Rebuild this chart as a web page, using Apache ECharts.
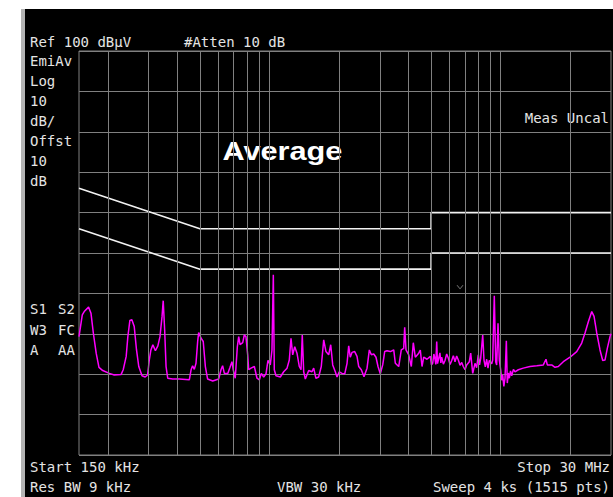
<!DOCTYPE html>
<html>
<head>
<meta charset="utf-8">
<script src="https://cdn.jsdelivr.net/npm/echarts@6/dist/echarts.min.js"></script>
<style>
  html, body { margin: 0; padding: 0; background: #ffffff; }
  #wrap { position: relative; width: 613px; height: 497px; overflow: hidden; background: #ffffff; }
  #bezel { position: absolute; left: 21px; top: 9px; width: 4px; height: 488px; background: #b4b4b4; }
  #panel { position: absolute; left: 25px; top: 9px; width: 588px; height: 488px; background: #000000; }
  #chart { position: absolute; left: 0; top: 0; width: 613px; height: 497px; }
</style>
</head>
<body>
<div id="wrap">
  <div id="bezel"></div>
  <div id="panel"></div>
  <div id="chart"></div>
</div>
<script>
// ---- data (frequency in MHz, level in dBµV) ----
const traceFreq = [
  0.150,0.155,0.158,0.165,0.169,0.173,0.178,0.183,0.190,0.203,0.213,0.228,0.233,0.240,0.244,0.249,0.254,0.260,0.266,0.272,
  0.281,0.290,0.297,0.302,0.307,0.313,0.321,0.329,0.336,0.343,0.347,0.352,0.357,0.363,0.381,0.407,0.450,0.458,0.465,0.473,
  0.481,0.489,0.494,0.506,0.517,0.528,0.540,0.568,0.603,0.617,0.627,0.638,0.660,0.675,0.688,0.697,0.711,0.726,0.736,0.746,
  0.766,0.778,0.791,0.805,0.813,0.832,0.860,0.883,0.904,0.922,0.944,0.966,0.985,1.008,1.025,1.039,1.049,1.067,1.114,1.152,
  1.191,1.218,1.239,1.260,1.286,1.315,1.346,1.369,1.386,1.406,1.429,1.478,1.527,1.553,1.588,1.632,1.675,1.716,1.755,1.803,
  1.840,1.877,1.926,1.959,2.004,2.059,2.116,2.165,2.201,2.236,2.274,2.336,2.391,2.432,2.495,2.563,2.642,2.703,2.758,2.824,
  2.889,2.947,3.015,3.088,3.150,3.224,3.332,3.447,3.502,3.622,3.716,3.806,3.844,3.895,4.001,4.106,4.188,4.273,4.420,4.491,
  4.568,4.645,4.800,4.961,5.02,5.080,5.14,5.199,5.24,5.288,5.33,5.373,5.46,5.51,5.558,5.65,5.743,5.84,5.935,6.04,
  6.140,6.24,6.345,6.45,6.557,6.67,6.783,6.891,7.009,7.128,7.317,7.418,
  7.569,7.743,7.87,8.001,8.10,8.196,8.361,8.469,8.58,8.699,8.81,8.928,9.143,9.236,9.384,9.515,9.609,9.736,9.863,10.00,
  10.10,10.20,10.32,10.44,10.58,10.68,
  10.79,10.90,11.03,11.16,11.35,11.53,11.92,12.52,13.39,14.32,15.29,15.70,15.91,16.62,17.18,17.75,18.66,19.95,21.32,22.41,
  23.16,23.94,24.77,
  25.34,26.03,26.89,27.62,28.26,28.92,29.71,30.00
];
const traceLevel = [
  29.3,34.7,35.5,36.6,35.1,30.2,25.2,21.7,20.9,20.2,19.8,19.9,21.1,24.4,29.3,33.3,33.5,31.8,26.0,21.9,
  19.6,19.3,19.8,23.5,26.0,27.3,25.8,27.0,29.3,34.3,38.2,31.0,21.9,19.0,18.8,18.8,18.6,21.1,22.1,21.2,
  22.7,28.1,30.3,28.9,28.1,21.9,18.8,18.3,18.8,21.1,22.1,20.2,20.2,21.7,23.1,21.1,19.0,26.8,29.3,27.3,
  27.8,29.7,29.3,24.8,21.1,21.5,21.9,19.0,18.6,20.2,19.3,20.1,23.4,22.3,26.0,44.6,21.1,19.6,19.3,20.6,
  21.5,23.5,28.9,24.8,26.8,25.2,21.9,21.1,29.7,20.6,18.8,20.9,20.6,21.5,19.0,19.3,21.9,28.5,25.6,24.8,
  27.3,22.3,20.6,19.3,20.6,20.2,20.1,22.7,27.0,24.2,25.4,25.6,24.4,21.9,21.1,19.4,21.5,26.0,24.8,25.0,
  24.2,21.9,20.1,22.3,25.6,25.8,25.6,26.0,22.7,21.9,26.0,26.4,31.6,26.0,24.8,21.9,27.8,24.2,25.2,26.0,
  21.9,24.2,23.7,24.4,22.3,22.7,25.0,23.7,22.4,28.1,22.6,23.5,25.3,22.8,24.2,22.5,23.4,25.0,24.0,22.4,
  23.4,24.6,23.1,24.5,23.5,22.2,22.9,21.9,21.1,22.3,23.1,25.2,
  20.2,22.7,21.6,24.8,22.3,24.0,29.7,23.5,21.8,23.7,21.5,23.4,22.6,23.5,39.4,23.1,22.3,32.6,23.5,21.1,
  18.5,19.8,17.0,19.0,28.3,17.8,
  20.3,19.0,20.8,19.6,21.2,20.6,21.1,21.5,21.9,22.1,22.3,23.7,22.3,22.3,21.7,21.9,23.1,24.2,25.6,27.7,
  30.2,33.0,35.5,
  34.3,30.2,26.0,23.4,23.5,26.4,29.3,30.0
];
const limitFreq = [0.15, 0.5, 5, 5, 30];
const limitUpper = [66, 56, 56, 60, 60];
const limitLower = [56, 46, 46, 50, 50];
const gridFreqs = [0.2,0.3,0.4,0.5,0.6,0.7,0.8,0.9,1,2,3,4,5,6,7,8,9,10,20];
const markerFreq = [6.67];
const markerLevel = [41.5];
const startFreqMHz = 0.15, stopFreqMHz = 30;
const refLevel = 100, dbPerDiv = 10;

const pair = (xs, ys) => xs.map((x, i) => [x, ys[i]]);

const chart = echarts.init(document.getElementById('chart'), null, { renderer: 'svg' });

const mono = '14px "DejaVu Sans Mono"';
const txtColor = '#e4e4e4';
function T(text, x, y, align) {
  return { type: 'text', x: x, y: y, silent: true,
    style: { text: text, fill: txtColor, font: mono, align: align || 'left', verticalAlign: 'middle' } };
}
const leftCol = ['EmiAv', 'Log', String(dbPerDiv), 'dB/', 'Offst', '10', 'dB'];

const graphics = [
  T('Ref ' + refLevel + ' dBµV', 30, 41.5),
  T('#Atten 10 dB', 184, 41.5),
  T('Meas Uncal', 609, 117.5, 'right'),
  T('S1', 30, 308.5), T('S2', 58, 308.5),
  T('W3', 30, 329.5), T('FC', 58, 329.5),
  T('A', 30, 350), T('AA', 58, 350),
  T('Start 150 kHz', 30, 467),
  T('Stop 30 MHz', 610, 467, 'right'),
  T('Res BW 9 kHz', 30, 487),
  T('VBW 30 kHz', 277, 487),
  T('Sweep 4 ks (1515 pts)', 610, 487, 'right'),
  { type: 'text', x: 222.5, y: 150.5, scaleX: 1.18, silent: true,
    style: { text: 'Average', fill: '#ffffff', font: 'bold 26px "Liberation Sans"', align: 'left', verticalAlign: 'middle' } }
].concat(leftCol.map((s, i) => T(s, 30, 60.5 + 20.1 * i)));

const option = {
  backgroundColor: 'transparent',
  animation: false,
  grid: { left: 79, right: 2, top: 51, bottom: 42, show: true, borderColor: '#808080', borderWidth: 1, backgroundColor: 'transparent' },
  xAxis: {
    type: 'log', logBase: 10, min: startFreqMHz, max: stopFreqMHz,
    axisLine: { show: false }, axisTick: { show: false }, axisLabel: { show: false },
    splitLine: { show: false }, minorSplitLine: { show: false }
  },
  yAxis: {
    type: 'value', min: 0, max: refLevel, interval: dbPerDiv,
    axisLine: { show: false }, axisTick: { show: false }, axisLabel: { show: false },
    splitLine: { show: true, lineStyle: { color: '#808080', width: 1 } }
  },
  series: [
    {
      type: 'line', name: 'grid', data: [], silent: true, z: 1,
      markLine: {
        silent: true, symbol: 'none', animation: false,
        label: { show: false },
        lineStyle: { color: '#808080', width: 1, type: 'solid' },
        emphasis: { disabled: true },
        data: gridFreqs.map(f => ({ xAxis: f }))
      }
    },
    {
      type: 'line', name: 'Limit QP', data: pair(limitFreq, limitUpper), showSymbol: false, symbol: 'none',
      lineStyle: { color: '#f2f2f2', width: 1.6 }, z: 3, silent: true
    },
    {
      type: 'line', name: 'Limit AV', data: pair(limitFreq, limitLower), showSymbol: false, symbol: 'none',
      lineStyle: { color: '#f2f2f2', width: 1.6 }, z: 3, silent: true
    },
    {
      type: 'line', name: 'Trace', data: pair(traceFreq, traceLevel), showSymbol: false, symbol: 'none',
      lineStyle: { color: '#ff00ff', width: 1.5 }, z: 4, silent: true
    },
    {
      type: 'scatter', name: 'Marker', data: pair(markerFreq, markerLevel),
      symbol: 'path://M0,0 L5,5 L10,0 L8.6,0 L5,3.6 L1.4,0 Z', symbolSize: [7, 4],
      itemStyle: { color: '#a8a8a8' }, z: 5, silent: true
    }
  ],
  graphic: graphics
};
chart.setOption(option);
</script>
</body>
</html>
